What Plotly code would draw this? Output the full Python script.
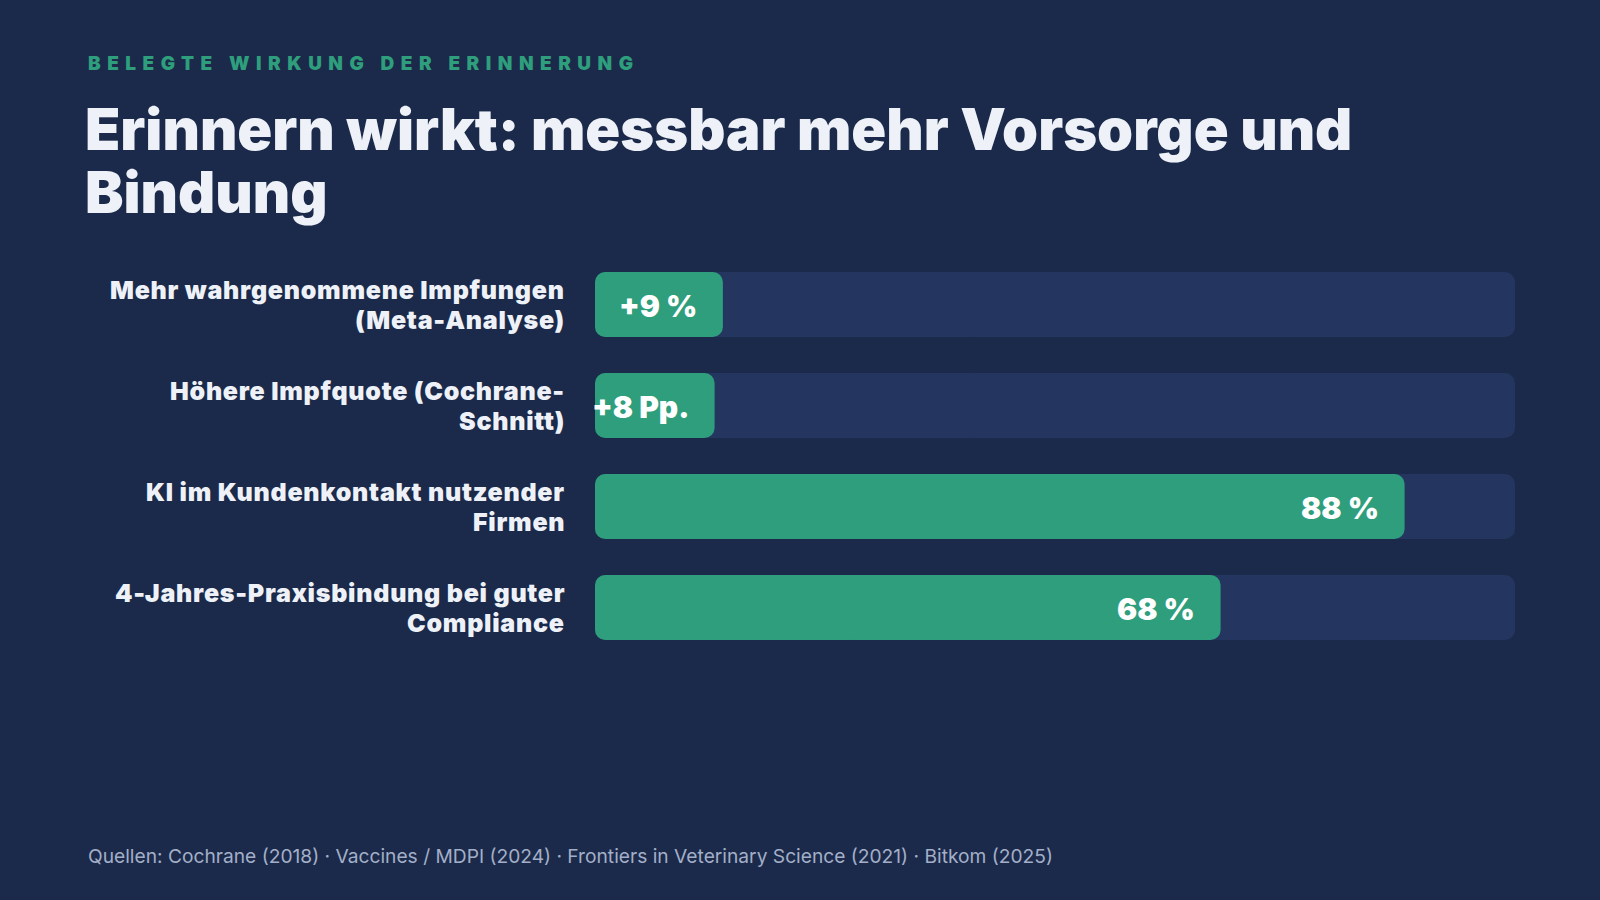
import plotly.graph_objects as go

# ---- data ----
categories = [
    "Mehr wahrgenommene Impfungen (Meta-Analyse)",
    "Höhere Impfquote (Cochrane-Schnitt)",
    "KI im Kundenkontakt nutzender Firmen",
    "4-Jahres-Praxisbindung bei guter Compliance",
]
category_lines = [
    ["Mehr wahrgenommene Impfungen", "(Meta-Analyse)"],
    ["Höhere Impfquote (Cochrane-", "Schnitt)"],
    ["KI im Kundenkontakt nutzender", "Firmen"],
    ["4-Jahres-Praxisbindung bei guter", "Compliance"],
]
value_labels = ["+9 %", "+8 Pp.", "88 %", "68 %"]
bar_lengths = [13.9, 13.0, 88, 68]   # drawn length on the 0-100 scale
track_max = [100, 100, 100, 100]

eyebrow = "BELEGTE WIRKUNG DER ERINNERUNG"
title_lines = ["Erinnern wirkt: messbar mehr Vorsorge und", "Bindung"]
sources = "Quellen: Cochrane (2018) · Vaccines / MDPI (2024) · Frontiers in Veterinary Science (2021) · Bitkom (2025)"

BG = "#1b2a4a"
TRACK = "#24365f"
GREEN = "#2e9e7c"
TEXT = "#eef2f8"
MUTED = "#a3afc8"
FONT = "Inter"

ML, MR, MT, MB = 595, 85, 254, 242
W, H = 1600, 900

fig = go.Figure()


def add_rounded_bar(lengths, color):
    # plotly rounds only the outer end of a bar; draw each bar as two halves
    # (left half drawn towards 0, right half drawn outwards) so both ends are rounded
    left_base = [v * 0.6 for v in lengths]
    left_x = [-v * 0.6 for v in lengths]
    right_base = [v * 0.4 for v in lengths]
    right_x = [v * 0.6 for v in lengths]
    for xs, bs in ((left_x, left_base), (right_x, right_base)):
        fig.add_trace(go.Bar(
            x=xs, base=bs, y=categories, orientation="h",
            marker=dict(color=color, opacity=1, line=dict(width=0, color=color)),
            opacity=1, hoverinfo="skip", showlegend=False,
        ))


add_rounded_bar(track_max, TRACK)
add_rounded_bar(bar_lengths, GREEN)

# value labels inside bars
for cat, lab, ln in zip(categories, value_labels, bar_lengths):
    fig.add_annotation(
        x=ln, y=cat, xref="x", yref="y", text=lab, showarrow=False,
        xanchor="right", yanchor="middle", xshift=-24, yshift=-1,
        font=dict(family=FONT, size=30, color="#ffffff", weight=900),
    )

# category labels (two lines, right aligned)
for cat, lines in zip(categories, category_lines):
    for i, line in enumerate(lines):
        fig.add_annotation(
            x=0, y=cat, xref="x", yref="y",
            text=f'<span style="letter-spacing:0.75px">{line}</span>',
            showarrow=False,
            xanchor="right", yanchor="middle", xshift=-28,
            yshift=15 - 30 * i,
            font=dict(family=FONT, size=25, color=TEXT, weight=900),
        )

fig.update_layout(
    width=W, height=H,
    paper_bgcolor=BG, plot_bgcolor=BG,
    margin=dict(l=ML, r=MR, t=MT, b=MB),
    barmode="overlay", bargap=36 / 101, barcornerradius=10,
    xaxis=dict(range=[0, 100], visible=False, fixedrange=True),
    yaxis=dict(autorange="reversed", visible=False, fixedrange=True),
)


def px_x(x):
    return (x - ML) / (W - ML - MR)


def px_y(y):
    return (H - MB - y) / (H - MT - MB)


fig.add_annotation(
    x=px_x(86), y=px_y(63), xref="paper", yref="paper",
    text=f'<span style="letter-spacing:6.5px">{eyebrow}</span>',
    showarrow=False, xanchor="left", yanchor="middle",
    font=dict(family=FONT, size=19, color=GREEN, weight=900),
)
for i, line in enumerate(title_lines):
    fig.add_annotation(
        x=px_x(83), y=px_y(129 + 63 * i), xref="paper", yref="paper", text=line,
        showarrow=False, xanchor="left", yanchor="middle", align="left",
        font=dict(family=FONT, size=57.7, color=TEXT, weight=900),
    )
fig.add_annotation(
    x=px_x(86), y=px_y(856), xref="paper", yref="paper", text=sources,
    showarrow=False, xanchor="left", yanchor="middle",
    font=dict(family=FONT, size=19.2, color=MUTED, weight=400),
)

fig.write_html("out.html", config={"displayModeBar": False})
